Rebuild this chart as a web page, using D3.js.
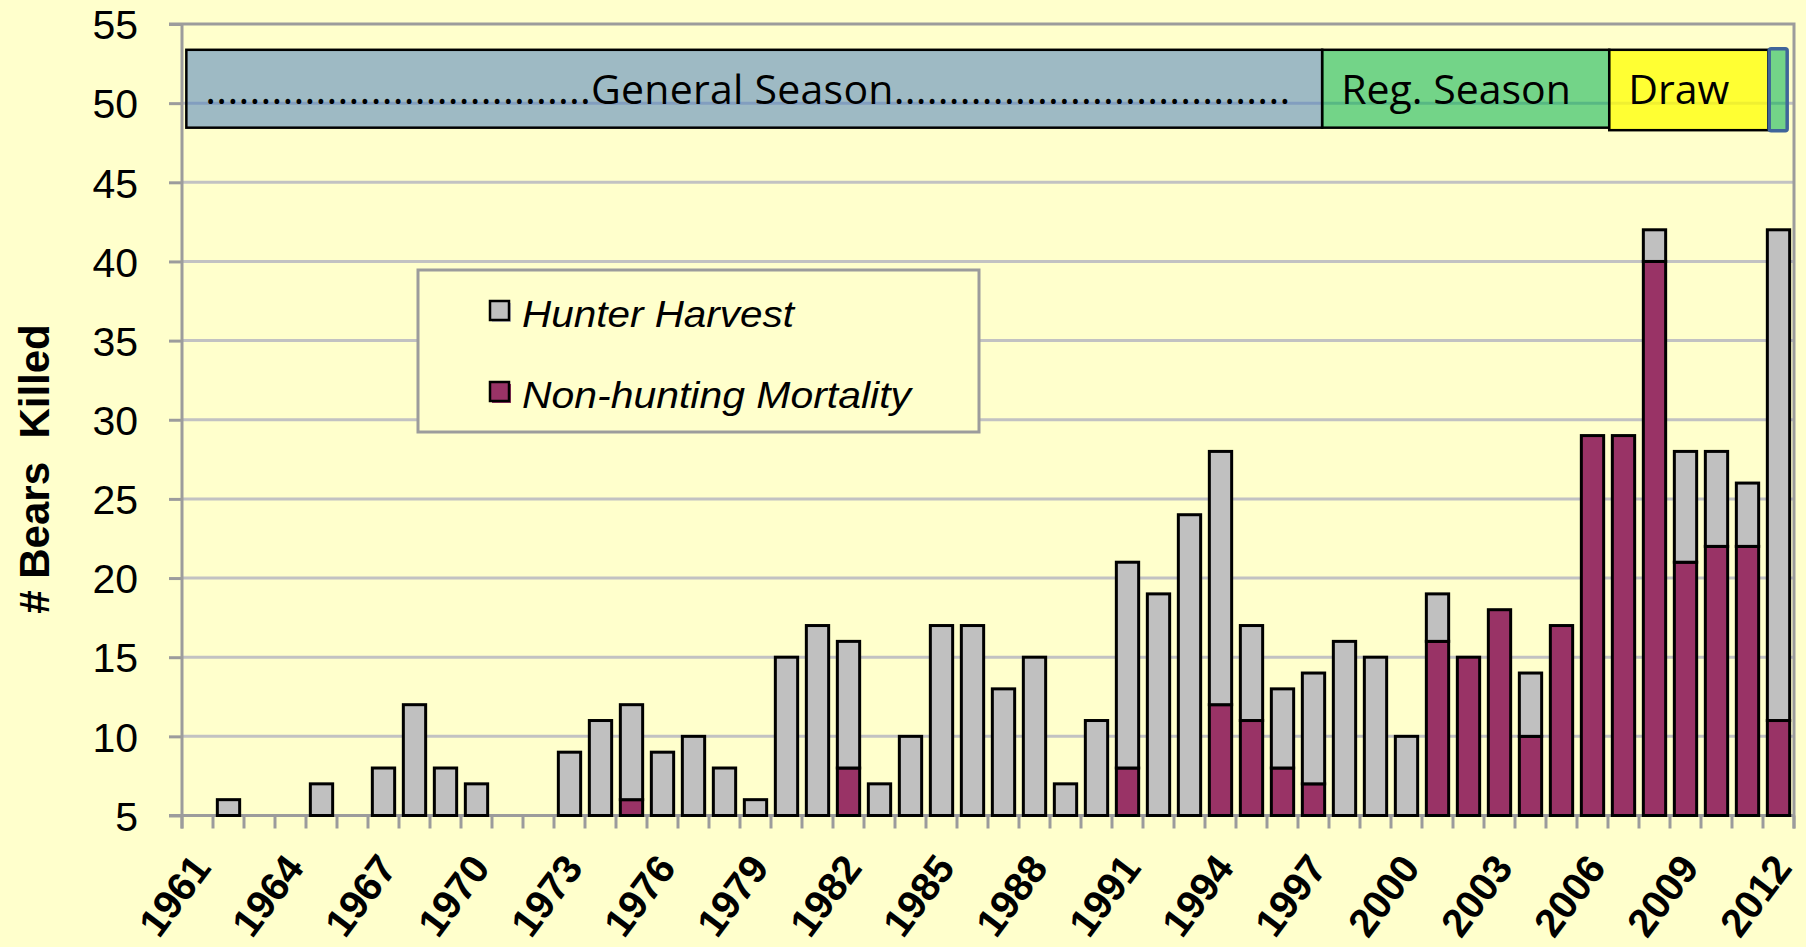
<!DOCTYPE html>
<html>
<head>
<meta charset="utf-8">
<script src="https://cdn.jsdelivr.net/npm/d3@7/dist/d3.min.js"></script>
<style>
  html, body { margin: 0; padding: 0; background: #ffffcc; }
  svg { display: block; }
</style>
</head>
<body>
<div id="chart"></div>
<script>
// ---- data ----
const years = [1961, 1962, 1963, 1964, 1965, 1966, 1967, 1968, 1969, 1970,
               1971, 1972, 1973, 1974, 1975, 1976, 1977, 1978, 1979, 1980,
               1981, 1982, 1983, 1984, 1985, 1986, 1987, 1988, 1989, 1990,
               1991, 1992, 1993, 1994, 1995, 1996, 1997, 1998, 1999, 2000,
               2001, 2002, 2003, 2004, 2005, 2006, 2007, 2008, 2009, 2010,
               2011, 2012];

const hunterHarvest = [4, 6, 0, 0, 7, 0, 8, 12, 8, 7,
                       4, 4, 9, 11, 6, 9, 10, 8, 6, 15,
                       17, 8, 7, 10, 17, 17, 13, 15, 7, 11,
                       13, 19, 24, 16, 6, 5, 7, 16, 15, 10,
                       3, 0, 0, 4, 0, 0, 0, 2, 7, 6,
                       4, 31];

const nonHunting = [0, 0, 3, 3, 0, 2, 0, 0, 0, 0,
                    0, 0, 0, 0, 6, 0, 0, 0, 0, 0,
                    0, 8, 0, 0, 0, 0, 0, 0, 0, 0,
                    8, 0, 0, 12, 11, 8, 7, 0, 0, 0,
                    16, 15, 18, 10, 17, 29, 29, 40, 21, 22,
                    22, 11];

const yTicks = [5, 10, 15, 20, 25, 30, 35, 40, 45, 50, 55];
const xLabelYears = [1961, 1964, 1967, 1970, 1973, 1976, 1979, 1982, 1985,
                     1988, 1991, 1994, 1997, 2000, 2003, 2006, 2009, 2012];

// season spans, in years along the x axis
const seasonNames = ["General Season", "Reg. Season", "Draw", ""];
const seasonStart = [1961.14, 1997.78, 2007.04, 2012.2];
const seasonEnd   = [1997.78, 2007.04, 2012.17, 2012.78];

const seriesKeys = ["nonHunting", "hunter"];
const seriesNames = ["Hunter Harvest", "Non-hunting Mortality"];

// ---- layout ----
const W = 1806, H = 947,
      pLeft = 182, pRight = 1794, pTop = 24, pBottom = 815.5,
      axisColor = "#9c9c9c", gridColor = "#c2c2c2",
      colors = { hunter: "#c0c0c0", nonHunting: "#993366" },
      seasonFill = ["#4f81bd", "#00b050", "#ffff00", "#00b050"],
      seasonOpacity = [0.55, 0.55, 0.75, 0.55];

const rows = years.map((yr, i) => ({ year: yr, hunter: hunterHarvest[i], nonHunting: nonHunting[i] }));

const svg = d3.select("#chart").append("svg")
    .attr("width", W)
    .attr("height", H)
    .style("background", "#ffffcc");

const x = d3.scaleBand()
    .domain(years)
    .range([pLeft, pRight])
    .paddingInner(0.28)
    .paddingOuter(0.14);

const yearPos = d3.scaleLinear()
    .domain([years[0], years[years.length - 1] + 1])
    .range([pLeft, pRight]);

const y = d3.scaleLinear()
    .domain([5, 55])
    .range([pBottom, pTop])
    .clamp(true);

// gridlines
svg.append("g")
  .selectAll("line")
  .data(yTicks.filter(d => d > 5 && d < 55))
  .join("line")
    .attr("x1", pLeft)
    .attr("x2", pRight)
    .attr("y1", d => y(d))
    .attr("y2", d => y(d))
    .attr("stroke", gridColor)
    .attr("stroke-width", 3);

// plot border (top + right)
svg.append("path")
    .attr("d", `M${pLeft - 13},${y(55)} H${pRight} V${pBottom + 13}`)
    .attr("fill", "none")
    .attr("stroke", axisColor)
    .attr("stroke-width", 3);

// y axis
const yAxis = svg.append("g")
    .attr("transform", `translate(${pLeft},0)`)
    .call(d3.axisLeft(y).tickValues(yTicks).tickSize(13).tickPadding(31));
yAxis.select(".domain").remove();
yAxis.selectAll(".tick line").attr("stroke", axisColor).attr("stroke-width", 3);
yAxis.selectAll(".tick text")
    .attr("font-family", "Liberation Sans, Arial, sans-serif")
    .attr("font-size", 41)
    .attr("fill", "#000")
    .attr("dy", "0.36em");

svg.append("line")
    .attr("x1", pLeft).attr("x2", pLeft)
    .attr("y1", y(55)).attr("y2", pBottom + 13)
    .attr("stroke", axisColor)
    .attr("stroke-width", 3);

// x axis line and boundary ticks
svg.append("line")
    .attr("x1", pLeft - 13).attr("x2", pRight)
    .attr("y1", pBottom).attr("y2", pBottom)
    .attr("stroke", axisColor)
    .attr("stroke-width", 3);

svg.append("g")
  .selectAll("line")
  .data(d3.range(years.length + 1))
  .join("line")
    .attr("x1", i => pLeft + i * x.step())
    .attr("x2", i => pLeft + i * x.step())
    .attr("y1", pBottom)
    .attr("y2", pBottom + 13)
    .attr("stroke", axisColor)
    .attr("stroke-width", 3);

const xAxis = svg.append("g")
    .attr("transform", `translate(0,${pBottom})`)
    .call(d3.axisBottom(x).tickValues(xLabelYears).tickSize(0));
xAxis.select(".domain").remove();
xAxis.selectAll(".tick text")
    .attr("x", 0)
    .attr("y", 0)
    .attr("dy", null)
    .attr("transform", "translate(15,53) rotate(-53)")
    .attr("text-anchor", "end")
    .attr("font-family", "Liberation Sans, Arial, sans-serif")
    .attr("font-weight", "bold")
    .attr("font-size", 40)
    .attr("fill", "#000");

// y title
svg.append("text")
    .attr("transform", "translate(49,469) rotate(-90)")
    .attr("text-anchor", "middle")
    .attr("font-family", "Liberation Sans, Arial, sans-serif")
    .attr("font-weight", "bold")
    .attr("font-size", 42)
    .style("white-space", "pre")
    .text("# Bears  Killed");

// stacked bars
const stacked = d3.stack().keys(seriesKeys)(rows);

svg.append("g")
  .selectAll("g")
  .data(stacked)
  .join("g")
    .attr("fill", s => colors[s.key])
  .selectAll("rect")
  .data(s => s.filter(d => d[1] - d[0] > 0).map(d => Object.assign(d, { key: s.key })))
  .join("rect")
    .attr("x", d => x(d.data.year))
    .attr("width", x.bandwidth())
    .attr("y", d => y(d[1]))
    .attr("height", d => y(d[0]) - y(d[1]))
    .attr("stroke", d => (y(d[0]) - y(d[1]) < 1) ? colors[d.key] : "#000")
    .attr("stroke-width", 3);

// season bar across the top
const seasonTop = y(53.37), seasonBottom = y(48.45);
const seasons = svg.append("g");
seasonNames.forEach((name, i) => {
  const isMarker = name === "";
  const t = isMarker ? seasonTop - 1 : seasonTop;
  const b = isMarker ? seasonBottom + 3 : (name === "Draw" ? seasonBottom + 2.5 : seasonBottom);
  seasons.append("rect")
      .attr("x", yearPos(seasonStart[i]))
      .attr("y", t)
      .attr("width", yearPos(seasonEnd[i]) - yearPos(seasonStart[i]))
      .attr("height", b - t)
      .attr("rx", isMarker ? 2 : 0)
      .attr("fill", seasonFill[i])
      .attr("fill-opacity", seasonOpacity[i])
      .attr("stroke", isMarker ? "#3f659a" : "#000")
      .attr("stroke-width", isMarker ? 3.5 : 2.5);
  if (!isMarker) {
    const label = name === "General Season"
      ? ".".repeat(35) + name + ".".repeat(36)
      : name;
    const txt = seasons.append("text")
        .attr("x", yearPos(seasonStart[i]) + 19)
        .attr("y", y(50) + 1)
        .attr("font-family", "Open Sans, sans-serif")
        .attr("font-size", 41)
        .attr("fill", "#000")
        .text(label);
    // dotted general-season label is stretched to run the width of its box
    if (name === "General Season") {
      txt.attr("textLength", yearPos(seasonEnd[i]) - yearPos(seasonStart[i]) - 51)
         .attr("lengthAdjust", "spacing");
    }
  }
});

// legend
const legend = svg.append("g").attr("transform", "translate(418,270)");
legend.append("rect")
    .attr("width", 561)
    .attr("height", 162)
    .attr("fill", "#ffffcc")
    .attr("stroke", axisColor)
    .attr("stroke-width", 3);

const legendKeys = ["hunter", "nonHunting"];
const legendWidths = [272, 389];
legendKeys.forEach((k, i) => {
  const g = legend.append("g").attr("transform", `translate(72,${31 + i * 81})`);
  g.append("rect")
      .attr("x", 2).attr("y", 2)
      .attr("width", 19).attr("height", 19)
      .attr("fill", colors[k]);
  g.append("rect")
      .attr("width", 19).attr("height", 19)
      .attr("fill", colors[k])
      .attr("stroke", "#000")
      .attr("stroke-width", 2.5);
  g.append("text")
      .attr("x", 32)
      .attr("y", 26)
      .attr("font-family", "Liberation Sans, Arial, sans-serif")
      .attr("font-style", "italic")
      .attr("font-size", 36)
      .attr("textLength", legendWidths[i])
      .attr("lengthAdjust", "spacingAndGlyphs")
      .text(seriesNames[i]);
});
</script>
</body>
</html>
